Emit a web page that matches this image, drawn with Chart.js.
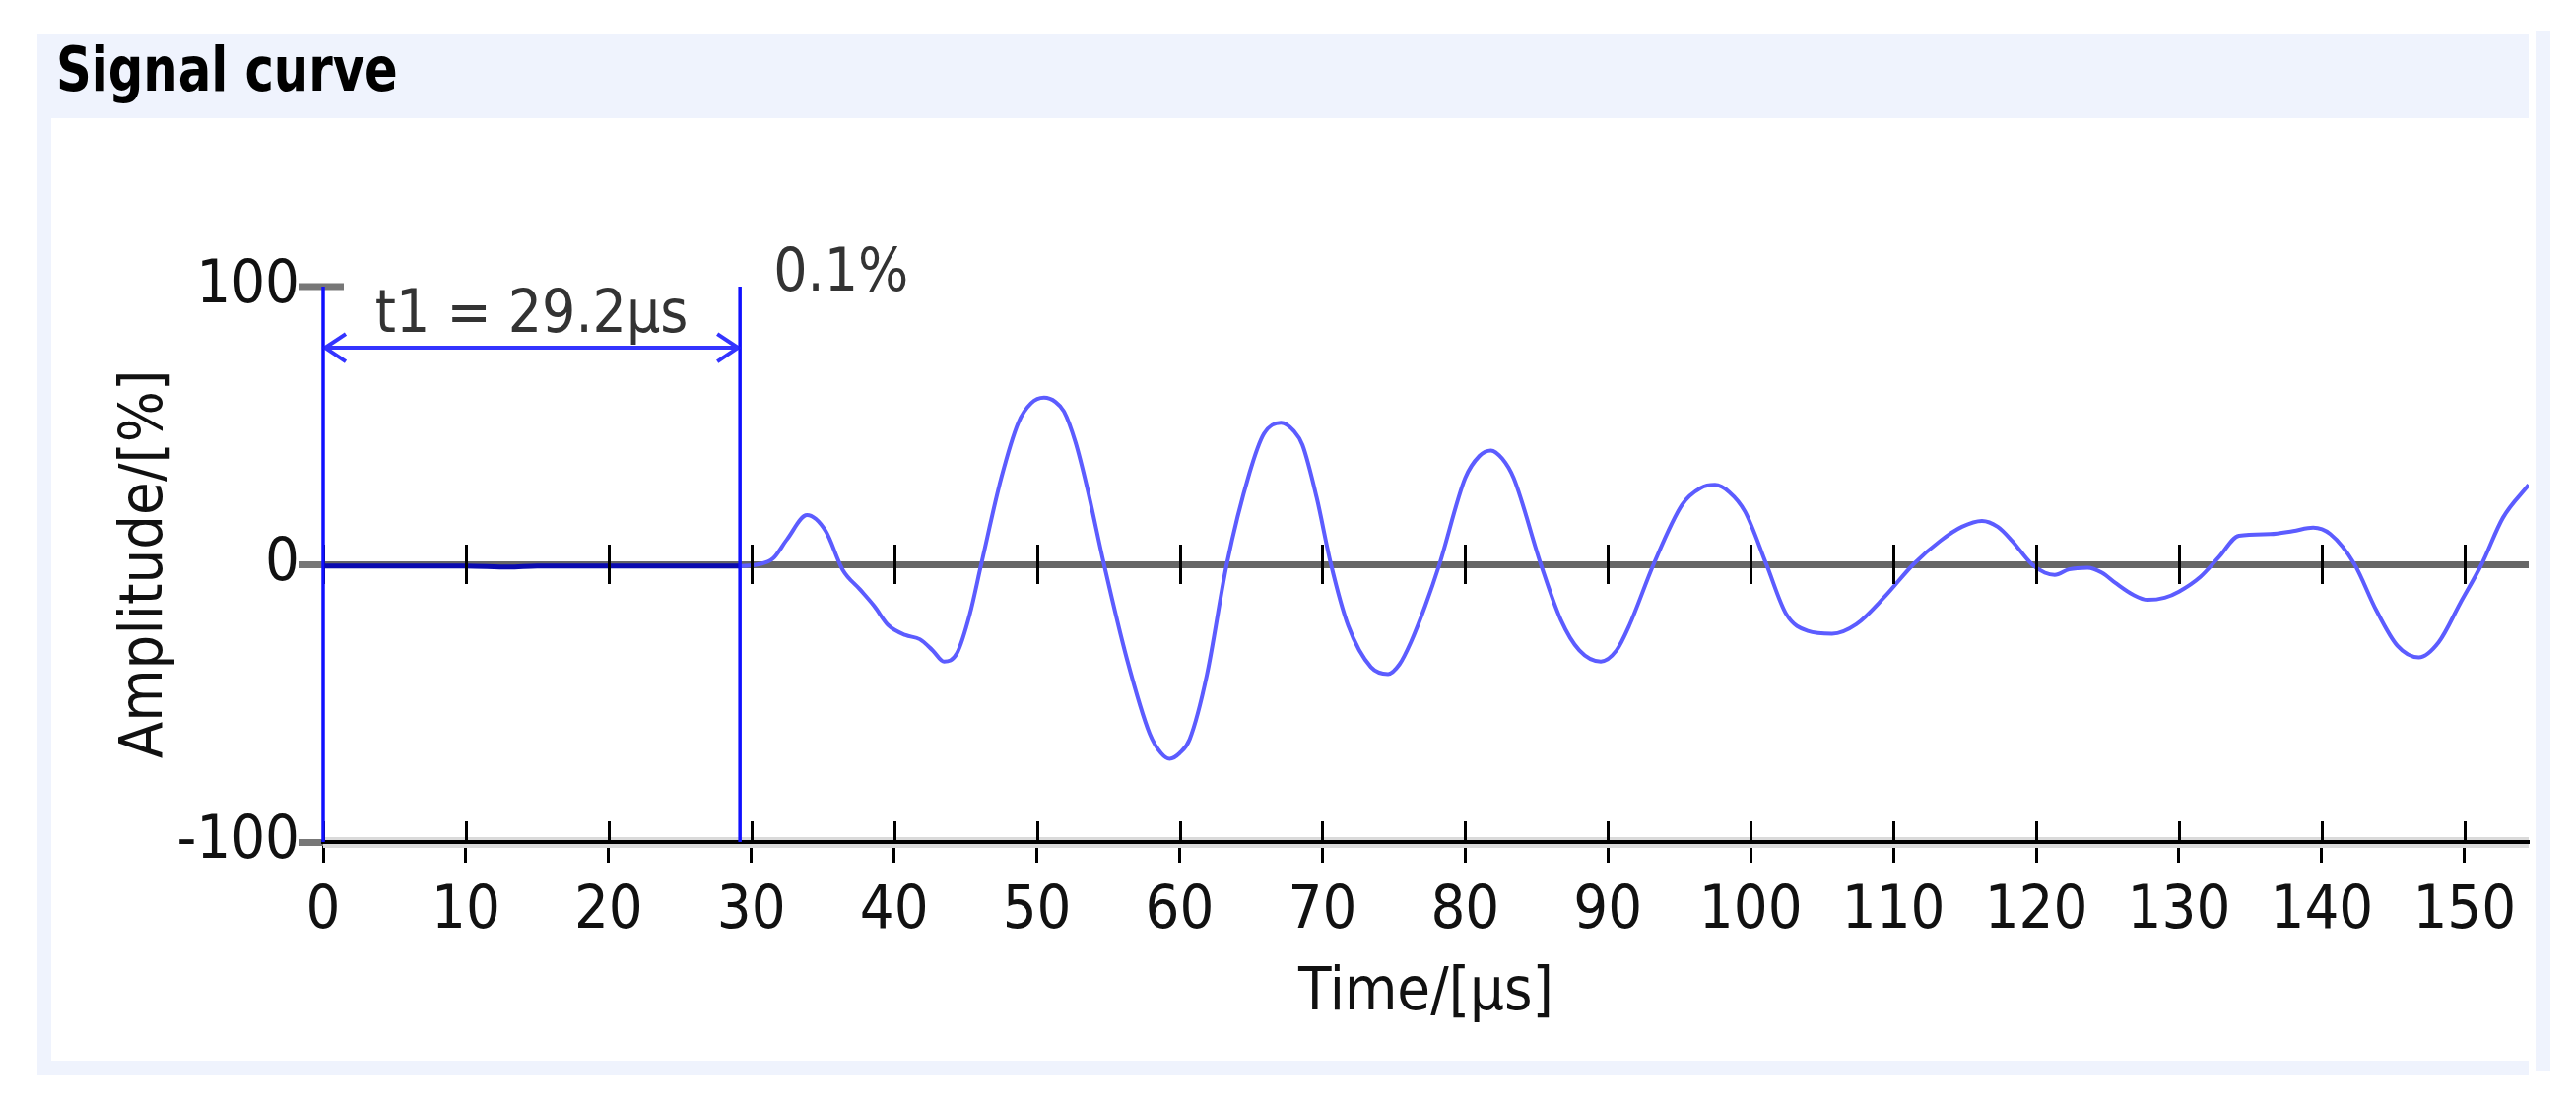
<!DOCTYPE html>
<html>
<head>
<meta charset="utf-8">
<script src="https://cdn.jsdelivr.net/npm/chart.js@4.4.0/dist/chart.umd.min.js"></script>
<style>
  html, body { margin: 0; padding: 0; background: #fff; }
  body { width: 2615px; height: 1120px; position: relative; overflow: hidden; }
  #panel { position: absolute; left: 38px; top: 35px; width: 2529px; height: 1057px; background: #eff3fd; }
  #inner { position: absolute; left: 52px; top: 120px; width: 2515px; height: 957px; background: #fff; }
  #strip { position: absolute; left: 2574px; top: 31px; width: 15px; height: 1057px; background: #eff3fd; }
  #title { position: absolute; left: 57px; top: 40px; font: bold 62px/62px 'DejaVu Sans Condensed', 'Open Sans', sans-serif;
           color: #000; transform: scaleX(0.89); transform-origin: left top; white-space: nowrap; }
  #chart { position: absolute; left: 0; top: 0; }
</style>
</head>
<body>
<div id="panel"></div>
<div id="inner"></div>
<div id="strip"></div>
<div id="title">Signal curve</div>
<canvas id="chart" width="2615" height="1120"></canvas>
<script>
const FONT = "'DejaVu Sans Condensed', 'Open Sans', sans-serif";

// Signal samples (time in µs, amplitude in %)
const times = [0, 5, 10, 13, 15, 20, 25, 29.2, 30.5, 31.5, 32.5, 33.9, 35.2, 36.4, 37.6, 38.6, 39.6,
  40.8, 41.8, 42.7, 43.5, 44.4, 45.3, 46.1, 47.5, 48.7, 49.6, 50.5, 51.3, 51.9, 52.7, 53.5, 54.7,
  56.3, 57.9, 58.7, 59.3, 60.0, 60.7, 61.9, 63.3, 64.9, 65.9, 67.1, 68.0, 68.6, 69.6, 70.6, 71.8,
  73.4, 74.6, 75.4, 76.2, 77.2, 78.2, 80.0, 81.0, 81.8, 82.6, 83.4, 85.3, 86.7, 88.0, 89.5, 90.6,
  91.5, 93.2, 95.2, 96.5, 97.5, 98.5, 99.6, 101.1, 102.5, 104.0, 105.7, 107.4, 109.4, 111.4, 113.3,
  114.8, 116.2, 117.3, 118.3, 119.7, 120.6, 121.3, 122.3, 123.6, 124.6, 125.6, 126.8, 127.8, 129.0,
  130.0, 131.5, 132.8, 134.2, 136.4, 138.0, 139.4, 140.6, 142.3, 143.8, 145.3, 146.8, 148.2, 149.7,
  151.2, 152.7, 154.5];
const amplitudes = [-0.6, -0.6, -0.6, -1.0, -0.6, -0.6, -0.6, -0.6, 0, 2, 9, 17.7, 12, -2, -9, -15, -22,
  -25.5, -27, -31, -35, -32, -18, 0, 31, 51, 58, 60, 58.5, 55, 44, 28, 0,
  -34, -61, -68, -70, -68, -63, -40, 0, 33, 47, 51, 48, 43, 24, 0, -22,
  -37, -39.5, -36, -28, -15, 0, 31, 39, 41, 38, 31, 0, -20, -31, -35, -31,
  -22, 0, 21.5, 27.5, 28.6, 26, 19, 0, -18, -24, -25, -21.6, -11.6, 0, 8.5,
  13.5, 15.6, 13.5, 8.5, 0, -3, -3.8, -1.8, -1.2, -3, -6.9, -11, -12.8, -12,
  -9.8, -4.5, 2.6, 10.3, 10.9, 12, 13.2, 10.9, 0, -16.3, -29.3, -33.5, -28, -14,
  0, 16.8, 28.6];

const xTickValues = [0, 10, 20, 30, 40, 50, 60, 70, 80, 90, 100, 110, 120, 130, 140, 150];
const yTickValues = [-100, 0, 100];

// Cursor markers
const markerTimes = [0, 29.2];
const arrowLevel = 78;
const t1Label = 't1 = 29.2μs';
const thresholdLabel = '0.1%';

const markerPlugin = {
  id: 'markers',
  afterDatasetsDraw(chart) {
    const { ctx, scales: { x, y } } = chart;
    const yb = y.getPixelForValue(-100), y0 = y.getPixelForValue(0), yt = y.getPixelForValue(100);
    ctx.save();
    // short dash of the top y tick reaching into the plot
    ctx.strokeStyle = '#777';
    ctx.lineWidth = 7;
    ctx.beginPath();
    ctx.moveTo(x.left, yt); ctx.lineTo(x.left + 21, yt);
    ctx.stroke();
    // ticks above the bottom axis and across the zero line
    ctx.strokeStyle = '#000';
    ctx.lineWidth = 3;
    x.ticks.forEach(t => {
      const px = Math.round(x.getPixelForValue(t.value)) + 0.5;
      ctx.beginPath();
      ctx.moveTo(px, yb - 21); ctx.lineTo(px, yb);
      ctx.moveTo(px, y0 - 20); ctx.lineTo(px, y0 + 20);
      ctx.stroke();
    });
    // vertical cursors
    ctx.strokeStyle = '#1010ff';
    ctx.lineWidth = 3.5;
    markerTimes.forEach(t => {
      const px = x.getPixelForValue(t);
      ctx.beginPath();
      ctx.moveTo(px, yt); ctx.lineTo(px, yb);
      ctx.stroke();
    });
    // double arrow between the cursors
    const xa = x.getPixelForValue(markerTimes[0]), xb = x.getPixelForValue(markerTimes[1]);
    const ya = y.getPixelForValue(arrowLevel);
    ctx.strokeStyle = 'rgba(30,30,255,0.9)';
    ctx.lineWidth = 4;
    ctx.beginPath();
    ctx.moveTo(xa, ya); ctx.lineTo(xb, ya);
    ctx.moveTo(xa + 23, ya - 14); ctx.lineTo(xa + 2, ya); ctx.lineTo(xa + 23, ya + 14);
    ctx.moveTo(xb - 23, ya - 14); ctx.lineTo(xb - 2, ya); ctx.lineTo(xb - 23, ya + 14);
    ctx.stroke();
    // labels
    ctx.fillStyle = '#333';
    ctx.font = '60px ' + FONT;
    ctx.textBaseline = 'alphabetic';
    ctx.textAlign = 'center';
    ctx.fillText(t1Label, (xa + xb) / 2, ya - 16);
    ctx.textAlign = 'left';
    ctx.fillText(thresholdLabel, xb + 34, yt + 4);
    ctx.restore();
  }
};

new Chart(document.getElementById('chart'), {
  type: 'line',
  data: {
    datasets: [{
      data: times.map((t, i) => ({ x: t, y: amplitudes[i] })),
      borderColor: '#5c5cff',
      borderWidth: 4,
      pointRadius: 0,
      cubicInterpolationMode: 'monotone',
      fill: false,
      segment: {
        borderColor: c => c.p1.parsed.x <= markerTimes[1] ? '#0b0bb0' : undefined,
        borderWidth: c => c.p1.parsed.x <= markerTimes[1] ? 5 : undefined
      }
    }]
  },
  options: {
    responsive: false,
    animation: false,
    layout: { padding: { left: 108, right: 48, top: 291, bottom: 70 } },
    plugins: { legend: { display: false }, tooltip: { enabled: false } },
    scales: {
      x: {
        type: 'linear',
        min: 0,
        max: 154.5,
        afterBuildTicks: s => { s.ticks = xTickValues.map(v => ({ value: v })); },
        afterFit: s => { s.height = 195; },
        border: { display: true, color: '#000', width: 4 },
        grid: { drawOnChartArea: false, tickLength: 21, tickColor: '#000', tickWidth: 3 },
        ticks: { font: { size: 61, family: FONT }, color: '#111', padding: 14, maxRotation: 0, autoSkip: false },
        title: { display: true, text: 'Time/[μs]', font: { size: 61, family: FONT }, color: '#111', padding: { top: 0, bottom: 4 } }
      },
      y: {
        type: 'linear',
        min: -100,
        max: 100,
        afterBuildTicks: s => { s.ticks = yTickValues.map(v => ({ value: v })); },
        afterFit: s => { s.width = 220; },
        border: { display: false },
        grid: {
          drawOnChartArea: true,
          color: c => c.tick.value === 0 ? 'rgba(0,0,0,0.6)' : c.tick.value === -100 ? '#dadada' : 'rgba(0,0,0,0)',
          lineWidth: c => c.tick.value === 0 ? 7 : c.tick.value === -100 ? 11 : 0,
          tickLength: 24,
          tickColor: '#777',
          tickWidth: 7
        },
        ticks: { font: { size: 61, family: FONT }, color: '#111', padding: 0 },
        title: { display: true, text: 'Amplitude/[%]', font: { size: 61, family: FONT }, color: '#111', padding: { top: 4, bottom: 0 } }
      }
    }
  },
  plugins: [markerPlugin]
});
</script>
</body>
</html>
